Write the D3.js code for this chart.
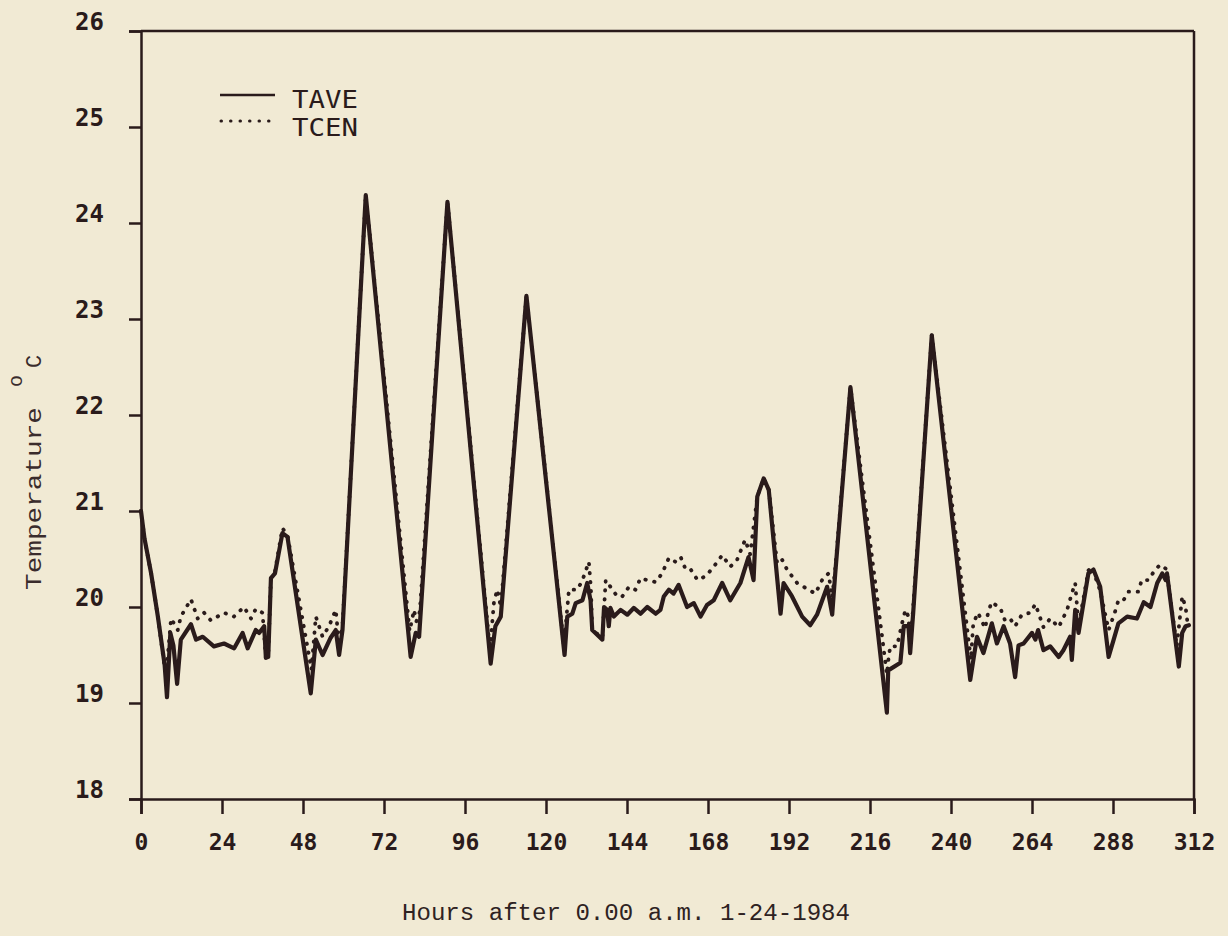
<!DOCTYPE html>
<html>
<head>
<meta charset="utf-8">
<script src="https://cdn.jsdelivr.net/npm/d3@7"></script>
<style>
  html, body { margin: 0; padding: 0; background: #f1ead4; }
  svg { display: block; }
</style>
</head>
<body>
<svg id="chart" width="1228" height="936"></svg>
<script>
// ---- data ----
const xTicks = [0, 24, 48, 72, 96, 120, 144, 168, 192, 216, 240, 264, 288, 312];
const yTicks = [18, 19, 20, 21, 22, 23, 24, 25, 26];
const seriesNames = ["TAVE", "TCEN"];

const taveHours = [0,1,3,5,7,7.7,8.7,9.6,10.7,11.8,14.8,16.3,18.3,21.6,24.6,27.6,30.1,31.6,34,35,36.5,37,37.7,38.5,39.7,41.9,43.4,50.3,51.8,53.8,56.2,57.7,58.7,59.7,66.6,79.9,81.4,82.4,90.8,103.6,105,106.6,114.2,125.5,126.3,127.8,128.8,130.8,132.2,133.2,133.7,136.7,137.2,138.1,138.6,139.1,140.1,142.1,144.1,146,148,150,152.5,153.9,154.9,156.4,157.8,159.3,161.8,163.8,165.8,167.7,169.7,172.2,174.6,177.6,180,181.5,182.6,184.5,186,189.5,190.4,192.9,195.9,198.3,200.3,203.3,204.8,205.7,210.2,221,221.4,225,226,227.4,227.9,228.8,234.3,245.7,247.7,249.6,252.1,253.6,255.6,257.5,259,260,261.5,264,265,265.8,267.4,269.4,271.9,273.3,275.3,275.8,276.8,277.8,280.7,282.2,284.2,286.7,288.2,289.6,292.2,295.1,297.1,299.1,301.1,302.6,303.6,304,307.5,308.5,309.5,310.5];
const taveValues = [21.0,20.72,20.35,19.9,19.4,19.06,19.73,19.6,19.2,19.66,19.82,19.66,19.69,19.59,19.62,19.57,19.73,19.57,19.76,19.73,19.8,19.47,19.48,20.3,20.35,20.77,20.73,19.1,19.66,19.5,19.68,19.76,19.5,19.76,24.29,19.48,19.73,19.69,24.22,19.41,19.8,19.9,23.24,19.5,19.9,19.93,20.04,20.07,20.25,20.07,19.76,19.66,20.0,19.97,19.8,19.99,19.9,19.97,19.92,19.99,19.93,20.0,19.93,19.97,20.11,20.18,20.14,20.23,20.0,20.04,19.9,20.02,20.07,20.25,20.07,20.25,20.52,20.28,21.15,21.34,21.22,19.93,20.25,20.11,19.9,19.81,19.92,20.21,19.92,20.35,22.29,18.9,19.34,19.42,19.8,19.8,19.52,19.94,22.83,19.24,19.69,19.52,19.83,19.62,19.8,19.62,19.27,19.6,19.62,19.73,19.66,19.76,19.55,19.59,19.48,19.55,19.69,19.45,19.97,19.73,20.35,20.39,20.21,19.48,19.66,19.83,19.9,19.88,20.05,20.0,20.25,20.35,20.28,20.35,19.38,19.73,19.8,19.81];

const tcenHours = [0,1,3,5,6.9,7.6,8.9,10.9,11.8,13.3,14.8,16.8,18.7,20.7,24.6,27.5,30.5,32.6,34,36,37,37.7,38.5,39.7,41.9,43.4,50.5,51.8,53.8,55.7,57.7,58.7,59.7,66.6,79.6,80.9,81.6,82.6,90.8,103.4,104.6,105.6,106.6,114.2,125.3,126.8,129.3,130.8,132.7,133.3,133.7,136.7,137.7,139.7,141.1,142.6,144.6,146.5,148,150,152.5,154.4,156.4,158.4,159.9,161.4,162.9,164.9,167.3,169.7,172.2,174.6,176.6,179,180.5,182.6,184.5,186,188.5,190,191.4,194.4,197.8,199.8,201.8,203.7,204.8,205.7,210.2,221,221.4,222,224,225.5,226.5,227.4,227.9,228.8,234.3,245.9,246.6,248,250.1,251,252,254.6,256,257.5,259,261,263.5,265,266.5,267.4,269.4,271.9,274.4,275.8,276.8,277.8,280.7,281.7,284.2,286.7,288.6,289.6,291.1,292.6,295.5,296.5,298.5,300.5,302,303.6,304,306.9,308.5,309.5,310];
const tcenValues = [21.0,20.72,20.35,19.9,19.4,19.35,19.88,19.76,19.9,19.99,20.08,19.88,19.94,19.86,19.94,19.9,20.0,19.88,19.98,19.94,19.47,19.5,20.3,20.37,20.82,20.75,19.35,19.9,19.69,19.8,19.97,19.6,19.8,24.29,19.75,19.97,19.85,19.95,24.22,19.55,20.06,20.18,20.0,23.24,19.6,20.18,20.18,20.28,20.47,20.2,19.76,19.68,20.28,20.18,20.11,20.11,20.21,20.18,20.3,20.28,20.26,20.35,20.51,20.47,20.52,20.39,20.39,20.28,20.32,20.42,20.54,20.42,20.49,20.7,20.55,21.15,21.34,21.22,20.45,20.49,20.39,20.25,20.18,20.14,20.28,20.35,20.1,20.4,22.29,19.3,19.44,19.59,19.59,19.83,19.97,19.9,19.6,20.0,22.83,19.45,19.83,19.94,19.78,19.94,20.05,19.99,19.86,19.88,19.8,19.92,19.94,20.03,19.88,19.79,19.88,19.79,19.97,20.14,20.25,19.8,20.38,20.42,20.17,19.76,19.95,20.07,20.07,20.16,20.16,20.28,20.28,20.39,20.44,20.4,20.35,19.59,20.11,20.0,19.86];

// ---- layout ----
const ink = "#2a1b1b";
const svg = d3.select("#chart");
svg.append("rect").attr("width", 1228).attr("height", 936).attr("fill", "#f1ead4");

const x = d3.scaleLinear().domain([0, 312]).range([141, 1194]);
const y = d3.scaleLinear().domain([18, 26]).range([799, 31]);

// frame (top and right)
svg.append("line").attr("x1", x(0)).attr("x2", x(312)).attr("y1", y(26)).attr("y2", y(26))
  .attr("stroke", ink).attr("stroke-width", 2.5);
svg.append("line").attr("x1", x(312)).attr("x2", x(312)).attr("y1", y(26)).attr("y2", y(18))
  .attr("stroke", ink).attr("stroke-width", 2.5);

// y axis
const yAxis = d3.axisLeft(y).tickValues(yTicks).tickSize(12).tickPadding(25).tickFormat(d3.format("d"));
const gy = svg.append("g").attr("transform", `translate(${x(0)},0)`).call(yAxis);
gy.select(".domain").attr("stroke", ink).attr("stroke-width", 2.5);
gy.selectAll(".tick line").attr("stroke", ink).attr("stroke-width", 2.5);
gy.selectAll(".tick text")
  .attr("fill", ink)
  .attr("font-family", "'DejaVu Sans Mono', monospace")
  .attr("font-weight", "bold")
  .attr("font-size", 24)
  .attr("dy", "-0.05em");

// x axis
const xAxis = d3.axisBottom(x).tickValues(xTicks).tickSize(15).tickPadding(20).tickFormat(d3.format("d"));
const gx = svg.append("g").attr("transform", `translate(0,${y(18)})`).call(xAxis);
gx.select(".domain").attr("stroke", ink).attr("stroke-width", 2.5);
gx.selectAll(".tick line").attr("stroke", ink).attr("stroke-width", 2.5);
gx.selectAll(".tick text")
  .attr("fill", ink)
  .attr("font-family", "'DejaVu Sans Mono', monospace")
  .attr("font-weight", "bold")
  .attr("font-size", 23);

// series
const taveData = taveHours.map((h, i) => [h, taveValues[i]]);
const tcenData = tcenHours.map((h, i) => [h, tcenValues[i]]);
const line = d3.line().x(d => x(d[0])).y(d => y(d[1]));

svg.append("path").datum(taveData).attr("d", line)
  .attr("fill", "none").attr("stroke", ink).attr("stroke-width", 4.2)
  .attr("stroke-linejoin", "round").attr("stroke-linecap", "round");
svg.append("path").datum(tcenData).attr("d", line)
  .attr("fill", "none").attr("stroke", ink).attr("stroke-width", 3.8)
  .attr("stroke-dasharray", "0.5,8.5").attr("stroke-linecap", "round")
  .attr("stroke-linejoin", "round");

// legend
const legend = svg.append("g");
legend.append("line").attr("x1", 220).attr("x2", 275).attr("y1", 95).attr("y2", 95)
  .attr("stroke", ink).attr("stroke-width", 2.5);
legend.append("line").attr("x1", 221).attr("x2", 275).attr("y1", 121).attr("y2", 121)
  .attr("stroke", ink).attr("stroke-width", 3).attr("stroke-dasharray", "0.5,9")
  .attr("stroke-linecap", "round");
legend.selectAll("text.lg").data(seriesNames).join("text")
  .attr("class", "lg")
  .attr("x", 292).attr("y", (d, i) => 108 + i * 28)
  .attr("font-family", "'DejaVu Sans Mono', monospace")
  .attr("font-size", 25)
  .attr("fill", ink)
  .attr("textLength", 66).attr("lengthAdjust", "spacingAndGlyphs")
  .text(d => d);

// axis titles
svg.append("text")
  .attr("x", 402).attr("y", 920)
  .attr("font-family", "'Liberation Mono', monospace")
  .attr("font-size", 23)
  .attr("fill", "#2e2222")
  .attr("textLength", 448).attr("lengthAdjust", "spacingAndGlyphs")
  .text("Hours after 0.00 a.m. 1-24-1984");

const ylab = svg.append("g").attr("transform", "translate(41,590) rotate(-90)");
ylab.append("text").attr("x", 0).attr("y", 0)
  .attr("font-family", "'Liberation Mono', monospace")
  .attr("font-size", 22).attr("fill", "#3a2c2c")
  .attr("textLength", 183).attr("lengthAdjust", "spacingAndGlyphs")
  .text("Temperature");
ylab.append("text").attr("x", 203).attr("y", -19)
  .attr("font-family", "'Liberation Mono', monospace")
  .attr("font-size", 20).attr("fill", "#3a2c2c")
  .text("o");
ylab.append("text").attr("x", 222).attr("y", 0)
  .attr("font-family", "'Liberation Mono', monospace")
  .attr("font-size", 22).attr("fill", "#3a2c2c")
  .text("C");
</script>
</body>
</html>
